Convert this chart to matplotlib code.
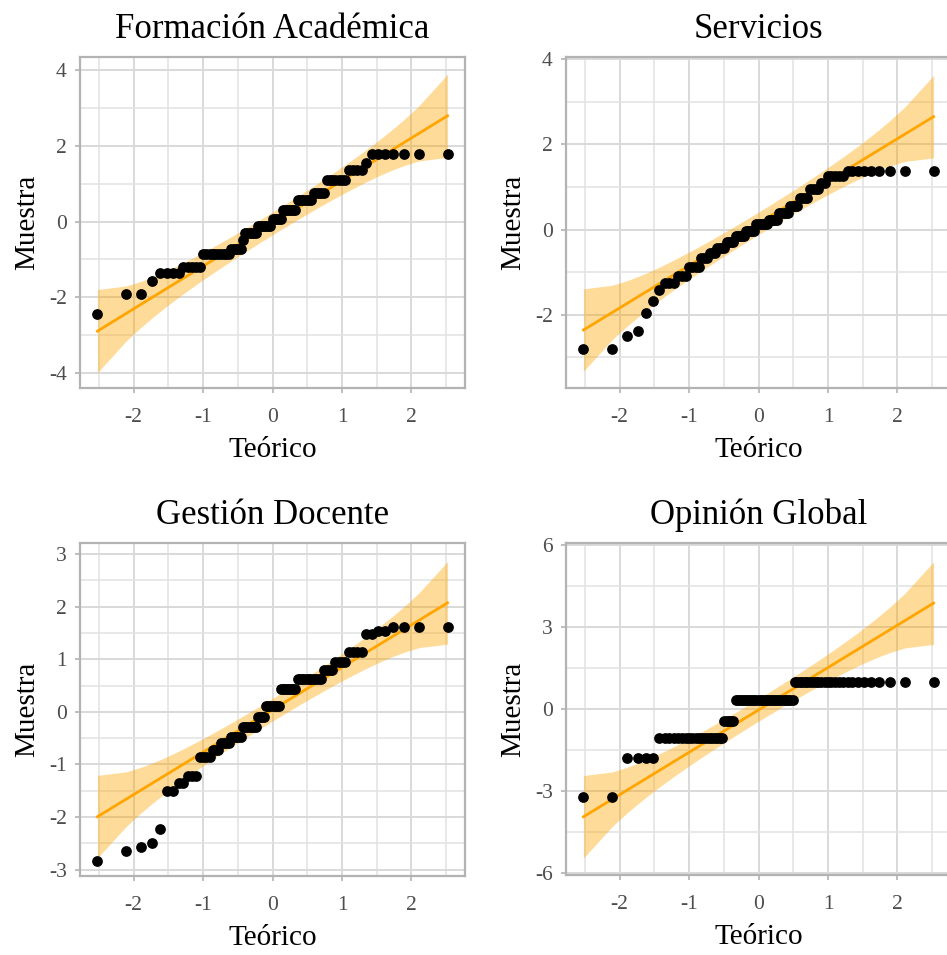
import numpy as np
import matplotlib
matplotlib.use('Agg')
import matplotlib.pyplot as plt
from statistics import NormalDist

plt.rcParams['font.family'] = ['Liberation Serif', 'DejaVu Serif']
plt.rcParams['axes.unicode_minus'] = False

# sorted sample values (standardised scores) given as levels and how many respondents sit on each level
formacion_vals = [-2.44, -1.92, -1.56, -1.36, -1.21, -0.85, -0.72, -0.50, -0.31, -0.11,
                  0.06, 0.31, 0.57, 0.75, 1.10, 1.36, 1.55, 1.78]
formacion_counts = [1, 2, 1, 4, 5, 10, 5, 1, 6, 7, 5, 7, 7, 5, 7, 4, 1, 7]

servicios_vals = [-2.81, -2.51, -2.38, -1.96, -1.67, -1.42, -1.26, -1.10, -0.87, -0.68,
                  -0.55, -0.44, -0.30, -0.16, -0.04, 0.12, 0.22, 0.38, 0.55, 0.75,
                  0.95, 1.10, 1.26, 1.38]
servicios_counts = [2, 1, 1, 1, 1, 1, 3, 3, 4, 3, 3, 4, 4, 5, 5, 6, 5, 5, 4, 4, 4, 2, 5, 9]

gestion_vals = [-2.84, -2.65, -2.57, -2.49, -2.23, -1.50, -1.36, -1.22, -0.86, -0.73,
                -0.60, -0.48, -0.29, -0.10, 0.12, 0.44, 0.63, 0.79, 0.95, 1.14,
                1.48, 1.54, 1.62]
gestion_counts = [1, 1, 1, 1, 1, 2, 2, 3, 4, 3, 4, 5, 7, 4, 7, 8, 11, 4, 4, 4, 2, 2, 4]

opinion_vals = [-3.2, -1.8, -1.05, -0.42, 0.35, 1.0]
opinion_counts = [2, 4, 20, 5, 28, 26]

# reference line of each panel (intercept, slope)
formacion_line = (-0.05, 1.13)
servicios_line = (0.145, 0.994)
gestion_line = (0.04, 0.807)
opinion_line = (-0.03, 1.552)

titles = ['Formación Académica', 'Servicios', 'Gestión Docente', 'Opinión Global']
y_major = [[-4, -2, 0, 2, 4], [-2, 0, 2, 4], [-3, -2, -1, 0, 1, 2, 3], [-6, -3, 0, 3, 6]]
y_minor = [[-3, -1, 1, 3], [-3, -1, 1, 3],
           [-2.5, -1.5, -0.5, 0.5, 1.5, 2.5], [-4.5, -1.5, 1.5, 4.5]]
y_lims = [(-4.40, 4.35), (-3.72, 4.05), (-3.12, 3.21), (-6.07, 6.08)]
x_major = [-2, -1, 0, 1, 2]
x_minor = [-2.5, -1.5, -0.5, 0.5, 1.5, 2.5]

panels = [(formacion_vals, formacion_counts, formacion_line),
          (servicios_vals, servicios_counts, servicios_line),
          (gestion_vals, gestion_counts, gestion_line),
          (opinion_vals, opinion_counts, opinion_line)]

W, H = 947, 955
fig = plt.figure(figsize=(W / 100, H / 100), dpi=100)

# axes boxes in pixels: left, top, width, height
boxes = [(80, 57, 385, 331), (566, 57, 385, 331),
         (80, 543, 385, 333), (566, 543, 385, 332)]

norm = NormalDist()
zcrit = norm.inv_cdf(0.975)

for k, (vals, counts, (b0, b1)) in enumerate(panels):
    left, top, w, h = boxes[k]
    ax = fig.add_axes([left / W, 1 - (top + h) / H, w / W, h / H])

    sample = np.repeat(vals, counts)
    n = len(sample)
    p = (np.arange(1, n + 1) - 0.5) / n
    theo = np.array([norm.inv_cdf(q) for q in p])
    dens = np.array([norm.pdf(t) for t in theo])

    # pointwise 95% band around the reference line
    fit = b0 + b1 * theo
    se = b1 / dens * np.sqrt(p * (1 - p) / n)
    ax.fill_between(theo, fit - zcrit * se, fit + zcrit * se,
                    color='orange', alpha=0.4, linewidth=0, zorder=2)
    ax.plot(theo, fit, color='#FFA500', lw=2.0, zorder=3)
    ax.scatter(theo, sample, s=60, color='black', zorder=4, linewidths=0)

    ax.set_xlim(-2.77, 2.77)
    ax.set_ylim(*y_lims[k])
    ax.set_xticks(x_major)
    ax.set_xticklabels([str(t) for t in x_major])
    ax.set_xticks(x_minor, minor=True)
    ax.set_yticks(y_major[k])
    ax.set_yticklabels([str(t) for t in y_major[k]])
    ax.set_yticks(y_minor[k], minor=True)

    ax.set_axisbelow(True)
    ax.grid(which='major', color='#D9D9D9', lw=1.4)
    ax.grid(which='minor', color='#E2E2E2', lw=1.1)
    for s in ax.spines.values():
        s.set_color('#B3B3B3')
        s.set_linewidth(1.6)
    ax.tick_params(which='major', length=3.5, width=1.2, color='#B3B3B3',
                   labelcolor='#4D4D4D', labelsize=15.5)
    ax.tick_params(axis='x', pad=11)
    ax.tick_params(axis='y', pad=6)
    ax.tick_params(which='minor', length=0)

    ax.set_xlabel('Teórico', fontsize=21, labelpad=7)
    ax.set_ylabel('Muestra', fontsize=21, labelpad=6)
    ax.set_title(titles[k], fontsize=25, pad=14)

fig.savefig('out.png', dpi=100)
